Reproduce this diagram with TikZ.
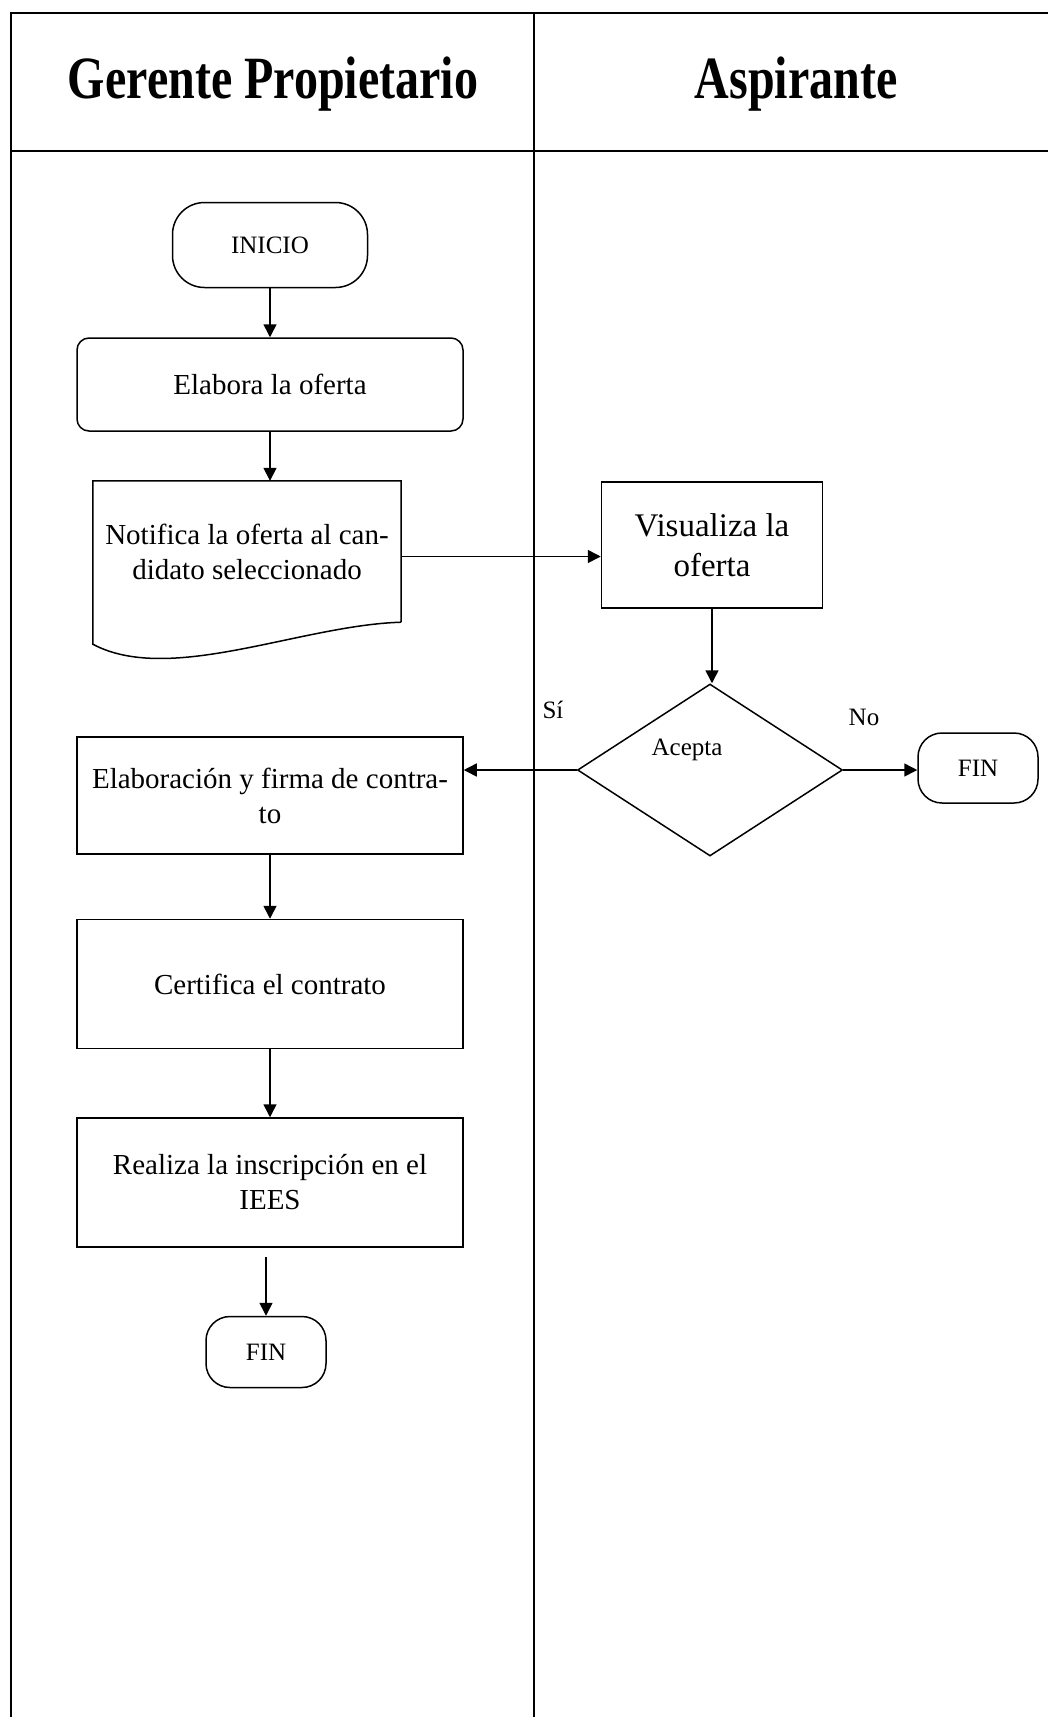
\documentclass[tikz,border=0pt]{standalone}
\usepackage{fontspec}
\setmainfont{Liberation Serif}
\usepackage{graphicx}
\usetikzlibrary{arrows.meta, positioning, shapes.geometric}

\begin{document}
\begin{tikzpicture}[
    x=1pt, y=-1pt,
    every node/.style={font=\fontsize{29}{35}\selectfont, align=center},
    head/.style={font=\fontsize{48}{58}\selectfont\bfseries},
    process/.style={rectangle, draw, line width=1.5pt, inner sep=0pt, minimum width=386pt},
    terminal/.style={rectangle, rounded corners=24pt, draw, line width=1.5pt, inner sep=0pt, font=\fontsize{25}{30}\selectfont},
    decision/.style={diamond, draw, line width=1.5pt, inner sep=0pt, minimum width=265pt, minimum height=172pt},
    small/.style={font=\fontsize{25}{30}\selectfont},
    lane/.style={line width=2pt},
    arrow/.style={-{Triangle[length=13pt,width=13pt]}, line width=1.5pt}
]
\useasboundingbox (0,0) rectangle (1048,1717);

% lanes
\draw[lane] (11,1717) -- (11,13) -- (1048,13);
\draw[lane] (11,151) -- (1048,151);
\draw[lane] (534,13) -- (534,1717);
\node[head] (gerente) at (273,84) {\scalebox{1}[1.25]{Gerente Propietario}};
\node[head] (aspirante) at (796,84) {\scalebox{1}[1.25]{Aspirante}};

% gerente
\node[terminal, rounded corners=32pt, minimum width=195pt, minimum height=85pt] (inicio) at (270,245) {INICIO};
\node[process, rounded corners=12pt, minimum height=93pt, below=49pt of inicio] (elabora) {Elabora la oferta};
\node[minimum width=308pt, minimum height=141pt, inner sep=0pt] (notifica) at (247,551.5) {Notifica la oferta al can-\\didato seleccionado};
\draw[line width=1.5pt] (notifica.south east) -- (notifica.north east) -- (notifica.north west)
    -- ([shift={(0,22)}]notifica.south west)
    .. controls ([shift={(77,63)}]notifica.south west) and ([shift={(-101,3)}]notifica.south east) .. (notifica.south east);
\node[process, minimum height=117pt] (elaboracion) at (270,795.5) {Elaboración y firma de contra-\\to};
\node[process, minimum height=129pt, below=64pt of elaboracion] (certifica) {Certifica el contrato};
\node[process, minimum height=129pt, below=68pt of certifica] (realiza) {Realiza la inscripción en el\\IEES};
\node[terminal, minimum width=120pt, minimum height=71pt] (fin2) at (266,1352) {FIN};

% aspirante
\node[process, minimum width=221pt, minimum height=126pt, font=\fontsize{33}{40}\selectfont] (visualiza) at (712,545) {Visualiza la\\oferta};
\node[decision] (acepta) at (710,770) {};
\node[small] (acepta-txt) at (687,750) {Acepta};
\node[terminal, minimum width=120pt, minimum height=70pt] (fin1) at (978,768) {FIN};
\node[small] (si) at (553,710) {Sí};
\node[small] (no) at (864,717) {No};

\draw[arrow] (inicio) -- (elabora);
\draw[arrow] (elabora.south) -- (elabora.south |- notifica.north);
\draw[arrow] ([yshift=-5pt]notifica.east) -- ([yshift=-5pt]notifica.east -| visualiza.west);
\draw[arrow] (visualiza.south) -- (visualiza.south |- acepta.north);
\draw[arrow] (acepta.west) -- (acepta.west -| elaboracion.east);
\draw[arrow] (acepta.east) -- (acepta.east -| fin1.west);
\draw[arrow] (elaboracion) -- (certifica);
\draw[arrow] (certifica) -- (realiza);
\draw[arrow, shorten <=9pt] (realiza.south -| fin2) -- (fin2);
\end{tikzpicture}
\end{document}
